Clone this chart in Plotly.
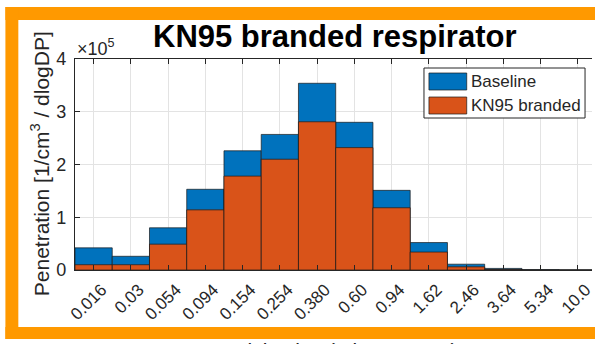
import plotly.graph_objects as go

# Particle size bins (micrometers) and penetration counts [1/cm^3 / dlogDP]
sizes = ["0.016", "0.03", "0.054", "0.094", "0.154", "0.254", "0.380",
         "0.60", "0.94", "1.62", "2.46", "3.64", "5.34", "10.0"]
baseline = [42000, 26000, 80000, 153000, 226000, 257000, 354000,
            280000, 151000, 52000, 11000, 3000, 500, 0]
kn95 = [10000, 10000, 49000, 114000, 178000, 210000, 281000,
        232000, 118000, 34000, 6000, 1000, 200, 0]
y_ticks = [0, 100000, 200000, 300000, 400000]
y_ticktext = ["0", "1", "2", "3", "4"]

W, H = 595, 344
L, R, T, B = 75, 0, 59, 74
PW, PH = W - L - R, H - T - B

BLUE = "#0072BD"
RED = "#D95319"
ORANGE = "#FF9900"
INK = "#262626"
FONT = "Liberation Sans"

idx = list(range(len(sizes)))
step = 37.46  # pixels per bin


def px(x):
    return (x - L) / PW


def py(y):
    return (H - B - y) / PH


fig = go.Figure()
fig.add_trace(go.Bar(x=idx, y=baseline, name="Baseline", width=1,
                     marker=dict(color=BLUE, line=dict(color="#1a1a1a", width=0.7))))
fig.add_trace(go.Bar(x=idx, y=kn95, name="KN95 branded", width=1,
                     marker=dict(color=RED, line=dict(color="#1a1a1a", width=0.7))))

shapes = []
# orange frame
for x0, y0, x1, y1 in [(5, 7, 600, 20), (5, 7, 18, 339), (5, 327, 600, 339)]:
    shapes.append(dict(type="rect", xref="paper", yref="paper",
                       x0=px(x0), x1=px(x1), y0=py(y1), y1=py(y0),
                       fillcolor=ORANGE, line=dict(width=0), layer="above"))

# legend box and patches
lx0, lx1, ly0, ly1 = 426, 588, 68, 118
shapes.append(dict(type="rect", xref="paper", yref="paper",
                   x0=px(lx0), x1=px(lx1), y0=py(ly1), y1=py(ly0),
                   fillcolor="white", line=dict(color=INK, width=1), layer="above"))
legend_rows = [(fig.data[0].name, BLUE, 73, 90), (fig.data[1].name, RED, 97, 114)]
annotations = []
for name, color, y0, y1 in legend_rows:
    shapes.append(dict(type="rect", xref="paper", yref="paper",
                       x0=px(431), x1=px(469), y0=py(y1), y1=py(y0),
                       fillcolor=color, line=dict(color="#1a1a1a", width=0.7),
                       layer="above"))
    annotations.append(dict(text=name, xref="paper", yref="paper",
                            x=px(471), y=py((y0 + y1) / 2), xanchor="left",
                            yanchor="middle", showarrow=False,
                            font=dict(family=FONT, size=17, color=INK)))

annotations += [
    dict(text="<b>KN95 branded respirator</b>", xref="paper", yref="paper",
         x=px(337), y=py(36), xanchor="center", yanchor="middle",
         showarrow=False, font=dict(family=FONT, size=31, color="black")),
    dict(text="Penetration [1/cm<sup>3</sup> / dlogDP]", xref="paper", yref="paper",
         x=px(40), y=py(164), xanchor="center", yanchor="middle", textangle=-90,
         showarrow=False, font=dict(family=FONT, size=21, color=INK)),
    dict(text="\u00d710<sup>5</sup>", xref="paper", yref="paper",
         x=px(75), y=py(47), xanchor="left", yanchor="middle",
         showarrow=False, font=dict(family=FONT, size=18, color=INK)),
    dict(text="Particle size (micrometers)", xref="paper", yref="paper",
         x=px(335), y=py(337), xanchor="center", yanchor="top",
         showarrow=False, font=dict(family=FONT, size=21, color=INK)),
]

fig.update_layout(
    width=W, height=H,
    margin=dict(l=L, r=R, t=T, b=B, pad=0),
    paper_bgcolor="white", plot_bgcolor="white",
    barmode="overlay", showlegend=False,
    shapes=shapes, annotations=annotations,
    font=dict(family=FONT, color=INK),
)
fig.update_xaxes(
    range=[-0.5, -0.5 + PW / step], tickmode="array", tickvals=idx, ticktext=sizes,
    tickangle=-45, tickfont=dict(size=17, color=INK),
    ticklabelshift=8, ticklabelstandoff=2, ticklabeloverflow="allow",
    ticks="inside", ticklen=5, tickcolor=INK, mirror="ticks",
    showline=True, linecolor=INK, linewidth=1.2,
    showgrid=True, gridcolor="#e3e3e3", gridwidth=1, zeroline=False,
)
fig.update_yaxes(
    range=[0, 400000], tickmode="array", tickvals=y_ticks, ticktext=y_ticktext,
    tickfont=dict(size=18, color=INK), ticklabelstandoff=4,
    ticks="inside", ticklen=5, tickcolor=INK,
    showline=True, linecolor=INK, linewidth=1.2,
    showgrid=True, gridcolor="#e3e3e3", gridwidth=1, zeroline=False,
)

fig.write_html("out.html")
